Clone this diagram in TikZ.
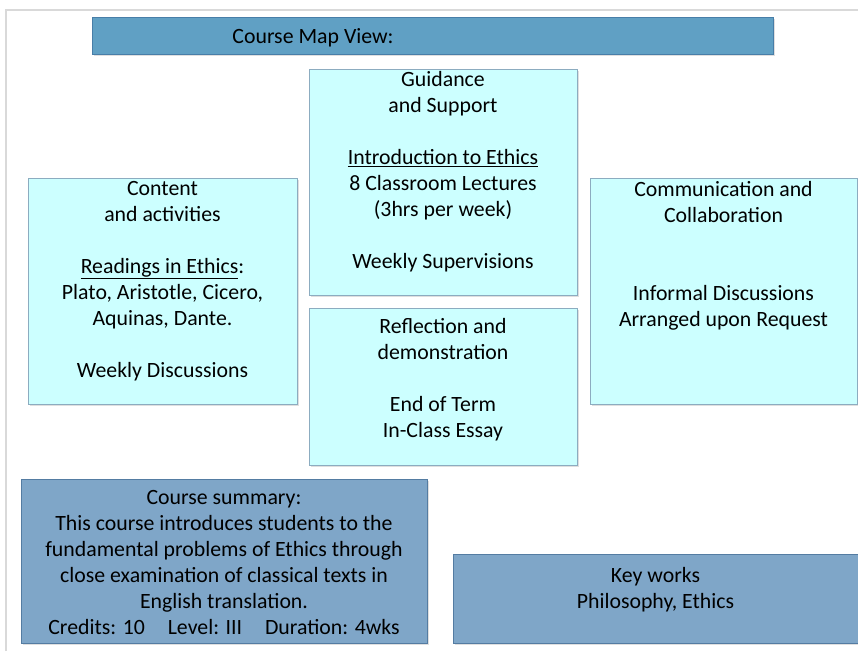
\documentclass[tikz,border=0pt]{standalone}
\usepackage{fontspec}
\setmainfont{Carlito}
\usepackage{xcolor}
\usepackage{tikz}
\usetikzlibrary{
    shapes,
    positioning,
    shadows,
    calc
}
\definecolor{panelfill}{RGB}{204,255,255}
\definecolor{paneldraw}{RGB}{140,172,192}
\definecolor{bannerfill}{RGB}{96,160,196}
\definecolor{bannerdraw}{RGB}{72,126,168}
\definecolor{summaryfill}{RGB}{127,166,200}
\definecolor{summarydraw}{RGB}{84,124,162}
\definecolor{framegray}{RGB}{217,217,217}
\tikzset{
  basic/.style = {
      rectangle,
      line width=1pt,
      drop shadow={shadow xshift=1.5pt, shadow yshift=-2pt, opacity=0.25}
  },
  panel/.style = {
      basic,
      draw=paneldraw,
      fill=panelfill
  },
  banner/.style = {
      basic,
      draw=bannerdraw,
      fill=bannerfill
  },
  summary/.style = {
      basic,
      draw=summarydraw,
      fill=summaryfill
  },
  txt/.style = {
      anchor=north,
      inner sep=0pt,
      align=center,
      text=black,
      font=\fontsize{21.8}{26}\selectfont
  }
}

\begin{document}
\begin{tikzpicture}[x=1pt,y=-1pt]
    \useasboundingbox (0,0) rectangle (858,651);
    % Frame
    \draw[framegray, line width=2pt] (6,651) -- (6,10) -- (858,10);
    % Boxes
    \node[banner, minimum width=681pt, minimum height=37pt] (map) at (432.5,35.5) {};
    \node[panel, minimum width=268pt, minimum height=226pt] (guide) at (443,182) {};
    \node[panel, minimum width=269pt, minimum height=226pt] (content) at (162.5,291) {};
    \node[panel, minimum width=267pt, minimum height=226pt] (comm) at (723.5,291) {};
    \node[panel, minimum width=268pt, minimum height=157pt] (reflect) at (443,386.5) {};
    \node[summary, minimum width=406pt, minimum height=164pt] (summary) at (224,561) {};
    \node[summary, minimum width=405pt, minimum height=89pt] (keys) at (655.5,598.5) {};
    % Texts
    \node[txt] (map-t) at (313,28) {Course Map View:};
    \node[txt] (guide-t) at (guide.north |- 0,71) {Guidance\\and Support\\[26pt]
      \underline{Introduction to Ethics}\\8 Classroom Lectures\\(3hrs per week)\\[26pt]
      Weekly Supervisions};
    \node[txt] (content-t) at (content.north |- 0,181) {Content\\and activities\\[26pt]
      \underline{Readings in Ethics}:\\Plato, Aristotle, Cicero,\\Aquinas, Dante.\\[26pt]
      Weekly Discussions};
    \node[txt] (comm-t) at (comm.north |- 0,181) {Communication and\\Collaboration\\[52pt]
      Informal Discussions\\Arranged upon Request};
    \node[txt] (reflect-t) at (reflect.north |- 0,318) {Reflection and\\demonstration\\[26pt]
      End of Term\\In-Class Essay};
    \node[txt] (summary-t) at (summary.north |- 0,490) {Course summary:\\
      This course introduces students to the\\fundamental problems of Ethics through\\
      close examination of classical texts in\\English translation.\\
      Credits: 10\hspace{1.05em}Level: III\hspace{1.05em}Duration: 4wks};
    \node[txt] (keys-t) at (keys.north |- 0,567) {Key works\\Philosophy, Ethics};
\end{tikzpicture}
\end{document}
